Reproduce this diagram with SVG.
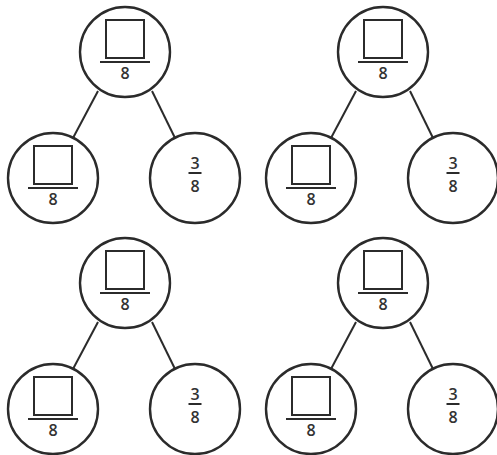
<svg xmlns="http://www.w3.org/2000/svg" width="497" height="455" viewBox="0 0 497 455">
<defs>
<style>
.c{fill:#fff;stroke:#2b2b2b;stroke-width:2.4}
.b{fill:none;stroke:#2b2b2b;stroke-width:2}
.l{stroke:#2b2b2b;stroke-width:2;fill:none}
.t{font-family:"Open Sans","Liberation Sans",sans-serif;font-weight:600;font-size:16px;fill:#333;text-anchor:middle}
</style>
<g id="blank">
<circle class="c" r="45"/>
<rect class="b" x="-19" y="-32" width="38" height="38"/>
<line class="l" x1="-25" y1="10" x2="25" y2="10"/>
<text class="t" y="27">8</text>
</g>
<g id="given">
<circle class="c" r="45"/>
<text class="t" y="-9">3</text>
<line class="l" x1="-6.5" y1="-5" x2="6.5" y2="-5"/>
<text class="t" y="14">8</text>
</g>
</defs>
<g id="connectors">
<line class="l" x1="98" y1="91" x2="73" y2="138"/>
<line class="l" x1="152" y1="91" x2="175" y2="138"/>
<line class="l" x1="356" y1="91" x2="331" y2="138"/>
<line class="l" x1="410" y1="91" x2="433" y2="138"/>
<line class="l" x1="98" y1="322" x2="73" y2="369"/>
<line class="l" x1="152" y1="322" x2="175" y2="369"/>
<line class="l" x1="356" y1="322" x2="331" y2="369"/>
<line class="l" x1="410" y1="322" x2="433" y2="369"/>
</g>
<g id="n1top"><use href="#blank" x="125" y="52"/></g>
<g id="n1left"><use href="#blank" x="53" y="178"/></g>
<g id="n1right"><use href="#given" x="195" y="178"/></g>
<g id="n2top"><use href="#blank" x="383" y="52"/></g>
<g id="n2left"><use href="#blank" x="311" y="178"/></g>
<g id="n2right"><use href="#given" x="453" y="178"/></g>
<g id="n3top"><use href="#blank" x="125" y="283"/></g>
<g id="n3left"><use href="#blank" x="53" y="409"/></g>
<g id="n3right"><use href="#given" x="195" y="409"/></g>
<g id="n4top"><use href="#blank" x="383" y="283"/></g>
<g id="n4left"><use href="#blank" x="311" y="409"/></g>
<g id="n4right"><use href="#given" x="453" y="409"/></g>
</svg>
